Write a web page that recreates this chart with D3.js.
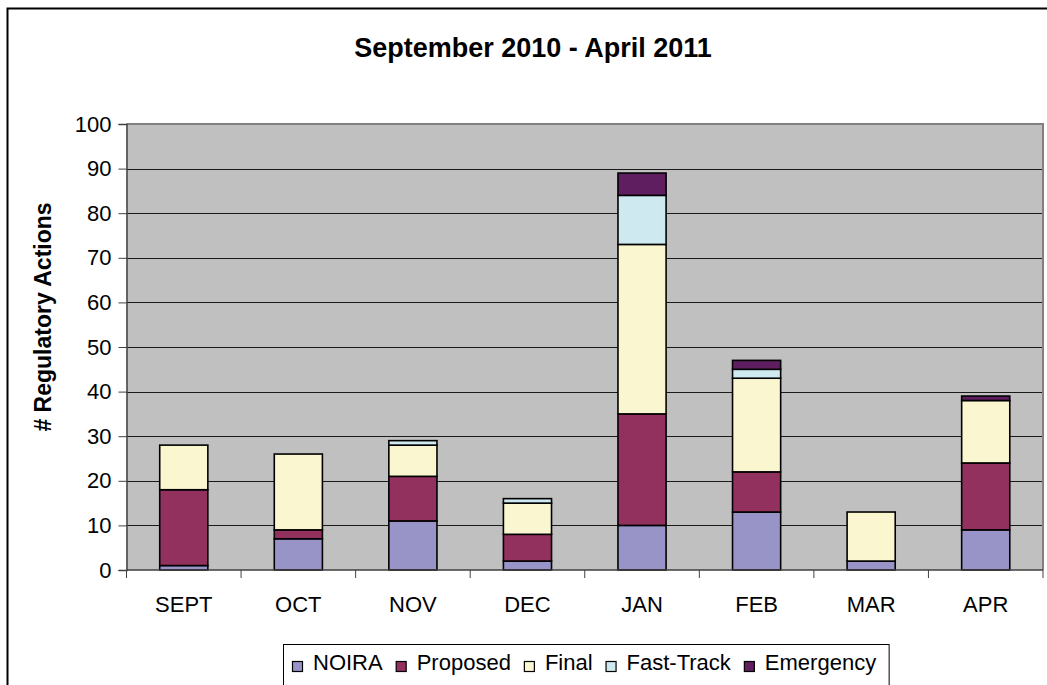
<!DOCTYPE html>
<html>
<head>
<meta charset="utf-8">
<script src="https://cdn.jsdelivr.net/npm/d3@7"></script>
<style>
  body { margin: 0; background: #fff; }
  svg { display: block; font-family: "Liberation Sans", Arial, sans-serif; }
</style>
</head>
<body>
<div id="chart"></div>
<script>
// 数据：每月的监管行动数量（按类型堆叠）
const months = ['SEPT', 'OCT', 'NOV', 'DEC', 'JAN', 'FEB', 'MAR', 'APR'];
const seriesNames = ['NOIRA', 'Proposed', 'Final', 'Fast-Track', 'Emergency'];
const noira = [1, 7, 11, 2, 10, 13, 2, 9];
const proposed = [17, 2, 10, 6, 25, 9, 0, 15];
const finalRule = [10, 17, 7, 7, 38, 21, 11, 14];
const fastTrack = [0, 0, 1, 1, 11, 2, 0, 0];
const emergency = [0, 0, 0, 0, 5, 2, 0, 1];
const yTicks = [0, 10, 20, 30, 40, 50, 60, 70, 80, 90, 100];
const colors = ['#9894c8', '#92305e', '#faf7d0', '#ceeaf0', '#5f1e5f'];

const rows = months.map((m, i) => ({
  month: m,
  'NOIRA': noira[i],
  'Proposed': proposed[i],
  'Final': finalRule[i],
  'Fast-Track': fastTrack[i],
  'Emergency': emergency[i]
}));

const W = 1047, H = 685;
const svg = d3.select('#chart').append('svg')
  .attr('width', W)
  .attr('height', H);

// 外边框（右侧和底部在画面之外）
svg.append('rect')
  .attr('x', 7.5).attr('y', 8.5)
  .attr('width', 1200).attr('height', 900)
  .attr('fill', '#fff')
  .attr('stroke', '#000')
  .attr('stroke-width', 2);

const plot = { left: 126.5, right: 1043, top: 124, bottom: 570 };

const x = d3.scaleBand()
  .domain(months)
  .range([plot.left, plot.right])
  .paddingInner(0.58)
  .paddingOuter(0.29);

const y = d3.scaleLinear()
  .domain([0, 100])
  .range([plot.bottom, plot.top]);

// 绘图区背景
svg.append('rect')
  .attr('x', plot.left).attr('y', plot.top)
  .attr('width', plot.right - plot.left)
  .attr('height', plot.bottom - plot.top)
  .attr('fill', '#c0c0c0');

// 网格线
svg.append('g')
  .selectAll('line')
  .data(yTicks.filter(d => d > 0 && d < 100))
  .enter()
  .append('line')
    .attr('x1', plot.left).attr('x2', plot.right)
    .attr('y1', d => Math.round(y(d)) + 0.5)
    .attr('y2', d => Math.round(y(d)) + 0.5)
    .attr('stroke', '#1a1a1a')
    .attr('stroke-width', 1);

// 绘图区上边和右边（灰色）
svg.append('path')
  .attr('d', `M${plot.left},${plot.top}H${plot.right}V${plot.bottom}`)
  .attr('fill', 'none')
  .attr('stroke', '#808080')
  .attr('stroke-width', 2);

// 堆叠柱
const stack = d3.stack().keys(seriesNames);
const layers = stack(rows);

svg.append('g')
  .selectAll('g')
  .data(layers)
  .enter()
  .append('g')
    .attr('fill', (d, i) => colors[i])
  .selectAll('rect')
  .data(d => d.filter(s => s[1] - s[0] > 0))
  .enter()
  .append('rect')
    .attr('x', d => x(d.data.month))
    .attr('y', d => y(d[1]))
    .attr('width', x.bandwidth())
    .attr('height', d => y(d[0]) - y(d[1]))
    .attr('stroke', '#000')
    .attr('stroke-width', 1.6);

// y 轴
const yAxis = svg.append('g')
  .attr('transform', `translate(${plot.left},0)`)
  .call(d3.axisLeft(y).tickValues(yTicks).tickSize(8).tickPadding(7));
yAxis.select('.domain').attr('stroke', '#404040').attr('stroke-width', 1.5);
yAxis.selectAll('.tick line').attr('stroke', '#404040');
yAxis.selectAll('.tick text')
  .attr('font-size', 22)
  .attr('font-family', '"Liberation Sans", Arial, sans-serif')
  .attr('fill', '#000');

// x 轴：刻度在类别边界
const xEdges = months.map((m, i) => plot.left + i * x.step()).concat([plot.right]);
svg.append('line')
  .attr('x1', plot.left).attr('x2', plot.right)
  .attr('y1', plot.bottom).attr('y2', plot.bottom)
  .attr('stroke', '#404040')
  .attr('stroke-width', 1.5);
svg.append('g')
  .selectAll('line')
  .data(xEdges)
  .enter()
  .append('line')
    .attr('x1', d => d).attr('x2', d => d)
    .attr('y1', plot.bottom).attr('y2', plot.bottom + 8)
    .attr('stroke', '#404040');
svg.append('g')
  .selectAll('text')
  .data(months)
  .enter()
  .append('text')
    .attr('x', d => x(d) + x.bandwidth() / 2)
    .attr('y', 612)
    .attr('text-anchor', 'middle')
    .attr('font-size', 22)
    .text(d => d);

// 标题
svg.append('text')
  .attr('x', 533)
  .attr('y', 57)
  .attr('text-anchor', 'middle')
  .attr('font-size', 27)
  .attr('font-weight', 'bold')
  .text('September 2010 - April 2011');

// y 轴标签
svg.append('text')
  .attr('transform', 'translate(51,317) rotate(-90)')
  .attr('text-anchor', 'middle')
  .attr('font-size', 23)
  .attr('font-weight', 'bold')
  .text('# Regulatory Actions');

// 图例
const legend = svg.append('g');
const legendBox = legend.append('rect')
  .attr('x', 283.5).attr('y', 644.5)
  .attr('height', 60)
  .attr('fill', '#fff')
  .attr('stroke', '#000')
  .attr('stroke-width', 1);
let lx = 292;
seriesNames.forEach((name, i) => {
  legend.append('rect')
    .attr('x', lx + 0.5).attr('y', 661.5)
    .attr('width', 10).attr('height', 10)
    .attr('fill', colors[i])
    .attr('stroke', '#000')
    .attr('stroke-width', 1.2);
  const t = legend.append('text')
    .attr('x', lx + 21)
    .attr('y', 670)
    .attr('font-size', 22)
    .text(name);
  lx += 21 + t.node().getComputedTextLength() + 13;
});
legendBox.attr('width', lx - 283.5);
</script>
</body>
</html>
